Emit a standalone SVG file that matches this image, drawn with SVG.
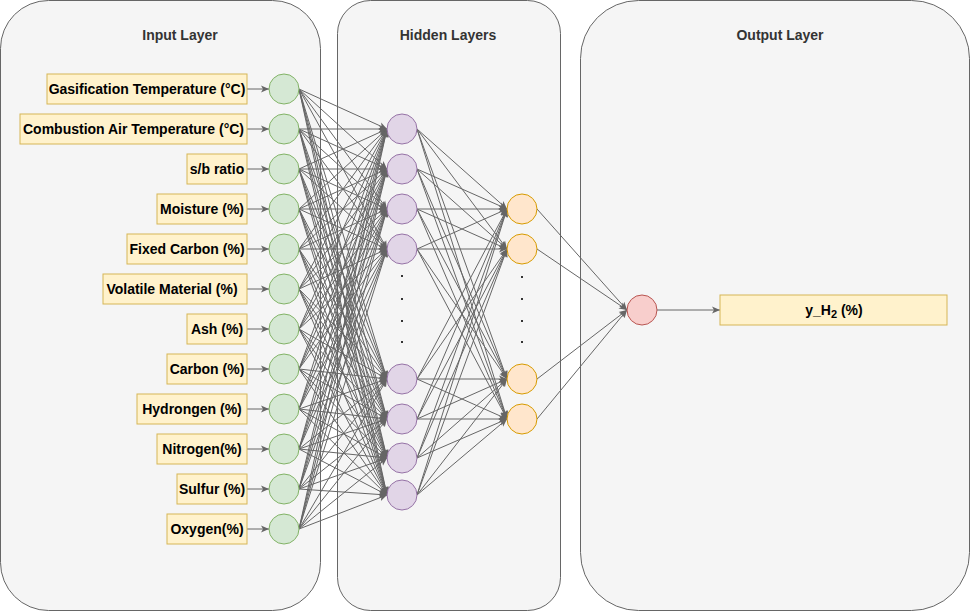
<svg xmlns="http://www.w3.org/2000/svg" width="971" height="612" viewBox="0 0 971 612">
<style>
.panel{fill:#f5f5f5;stroke:#666666;stroke-width:1}
.title{font-family:"Liberation Sans",Arial,sans-serif;font-size:14px;font-weight:bold;fill:#333333;text-anchor:middle}
.lbl{fill:#fff2cc;stroke:#d6b656;stroke-width:1}
.lt{font-family:"Liberation Sans",Arial,sans-serif;font-size:14px;font-weight:bold;fill:#000000;text-anchor:middle;dominant-baseline:central}
.in{fill:#d5e8d4;stroke:#82b366;stroke-width:1}
.hid{fill:#e1d5e7;stroke:#9673a6;stroke-width:1}
.hid2{fill:#ffe6cc;stroke:#d79b00;stroke-width:1}
.out{fill:#f8cecc;stroke:#b85450;stroke-width:1}
.dot{fill:#333333}
#edges line{stroke:#666666;stroke-width:1;marker-end:url(#arr)}
</style>
<defs>
<marker id="arr" viewBox="0 0 8 8" refX="8" refY="4" markerWidth="8" markerHeight="8" markerUnits="userSpaceOnUse" orient="auto">
<path d="M0,0.5 L8,4 L0,7.5 L2,4 Z" fill="#666666"/>
</marker>
</defs>
<g id="panels">
<rect id="input-layer" class="panel" x="0.5" y="0.5" width="320" height="610" rx="48" ry="48"/>
<rect id="hidden-layers" class="panel" x="337.5" y="0.5" width="223" height="610" rx="33" ry="33"/>
<rect id="output-layer" class="panel" x="580.5" y="0.5" width="389" height="610" rx="58" ry="58"/>
<text class="title" x="180" y="40">Input Layer</text>
<text class="title" x="448" y="40">Hidden Layers</text>
<text class="title" x="780" y="40">Output Layer</text>
</g>
<g id="edges">
<line x1="247" y1="89" x2="269" y2="89"/>
<line x1="247" y1="129" x2="269" y2="129"/>
<line x1="247" y1="169" x2="269" y2="169"/>
<line x1="247" y1="209" x2="269" y2="209"/>
<line x1="247" y1="249" x2="269" y2="249"/>
<line x1="247" y1="289" x2="269" y2="289"/>
<line x1="247" y1="329" x2="269" y2="329"/>
<line x1="247" y1="369" x2="269" y2="369"/>
<line x1="247" y1="409" x2="269" y2="409"/>
<line x1="247" y1="449" x2="269" y2="449"/>
<line x1="247" y1="489" x2="269" y2="489"/>
<line x1="247" y1="529" x2="269" y2="529"/>
<line x1="299" y1="89" x2="387" y2="129"/><line x1="299" y1="89" x2="387" y2="169"/><line x1="299" y1="89" x2="387" y2="209"/><line x1="299" y1="89" x2="387" y2="249"/><line x1="299" y1="89" x2="387" y2="379"/><line x1="299" y1="89" x2="387" y2="419"/><line x1="299" y1="89" x2="387" y2="458"/><line x1="299" y1="89" x2="387" y2="495"/>
<line x1="299" y1="129" x2="387" y2="129"/><line x1="299" y1="129" x2="387" y2="169"/><line x1="299" y1="129" x2="387" y2="209"/><line x1="299" y1="129" x2="387" y2="249"/><line x1="299" y1="129" x2="387" y2="379"/><line x1="299" y1="129" x2="387" y2="419"/><line x1="299" y1="129" x2="387" y2="458"/><line x1="299" y1="129" x2="387" y2="495"/>
<line x1="299" y1="169" x2="387" y2="129"/><line x1="299" y1="169" x2="387" y2="169"/><line x1="299" y1="169" x2="387" y2="209"/><line x1="299" y1="169" x2="387" y2="249"/><line x1="299" y1="169" x2="387" y2="379"/><line x1="299" y1="169" x2="387" y2="419"/><line x1="299" y1="169" x2="387" y2="458"/><line x1="299" y1="169" x2="387" y2="495"/>
<line x1="299" y1="209" x2="387" y2="129"/><line x1="299" y1="209" x2="387" y2="169"/><line x1="299" y1="209" x2="387" y2="209"/><line x1="299" y1="209" x2="387" y2="249"/><line x1="299" y1="209" x2="387" y2="379"/><line x1="299" y1="209" x2="387" y2="419"/><line x1="299" y1="209" x2="387" y2="458"/><line x1="299" y1="209" x2="387" y2="495"/>
<line x1="299" y1="249" x2="387" y2="129"/><line x1="299" y1="249" x2="387" y2="169"/><line x1="299" y1="249" x2="387" y2="209"/><line x1="299" y1="249" x2="387" y2="249"/><line x1="299" y1="249" x2="387" y2="379"/><line x1="299" y1="249" x2="387" y2="419"/><line x1="299" y1="249" x2="387" y2="458"/><line x1="299" y1="249" x2="387" y2="495"/>
<line x1="299" y1="289" x2="387" y2="129"/><line x1="299" y1="289" x2="387" y2="169"/><line x1="299" y1="289" x2="387" y2="209"/><line x1="299" y1="289" x2="387" y2="249"/><line x1="299" y1="289" x2="387" y2="379"/><line x1="299" y1="289" x2="387" y2="419"/><line x1="299" y1="289" x2="387" y2="458"/><line x1="299" y1="289" x2="387" y2="495"/>
<line x1="299" y1="329" x2="387" y2="129"/><line x1="299" y1="329" x2="387" y2="169"/><line x1="299" y1="329" x2="387" y2="209"/><line x1="299" y1="329" x2="387" y2="249"/><line x1="299" y1="329" x2="387" y2="379"/><line x1="299" y1="329" x2="387" y2="419"/><line x1="299" y1="329" x2="387" y2="458"/><line x1="299" y1="329" x2="387" y2="495"/>
<line x1="299" y1="369" x2="387" y2="129"/><line x1="299" y1="369" x2="387" y2="169"/><line x1="299" y1="369" x2="387" y2="209"/><line x1="299" y1="369" x2="387" y2="249"/><line x1="299" y1="369" x2="387" y2="379"/><line x1="299" y1="369" x2="387" y2="419"/><line x1="299" y1="369" x2="387" y2="458"/><line x1="299" y1="369" x2="387" y2="495"/>
<line x1="299" y1="409" x2="387" y2="129"/><line x1="299" y1="409" x2="387" y2="169"/><line x1="299" y1="409" x2="387" y2="209"/><line x1="299" y1="409" x2="387" y2="249"/><line x1="299" y1="409" x2="387" y2="379"/><line x1="299" y1="409" x2="387" y2="419"/><line x1="299" y1="409" x2="387" y2="458"/><line x1="299" y1="409" x2="387" y2="495"/>
<line x1="299" y1="449" x2="387" y2="129"/><line x1="299" y1="449" x2="387" y2="169"/><line x1="299" y1="449" x2="387" y2="209"/><line x1="299" y1="449" x2="387" y2="249"/><line x1="299" y1="449" x2="387" y2="379"/><line x1="299" y1="449" x2="387" y2="419"/><line x1="299" y1="449" x2="387" y2="458"/><line x1="299" y1="449" x2="387" y2="495"/>
<line x1="299" y1="489" x2="387" y2="129"/><line x1="299" y1="489" x2="387" y2="169"/><line x1="299" y1="489" x2="387" y2="209"/><line x1="299" y1="489" x2="387" y2="249"/><line x1="299" y1="489" x2="387" y2="379"/><line x1="299" y1="489" x2="387" y2="419"/><line x1="299" y1="489" x2="387" y2="458"/><line x1="299" y1="489" x2="387" y2="495"/>
<line x1="299" y1="529" x2="387" y2="129"/><line x1="299" y1="529" x2="387" y2="169"/><line x1="299" y1="529" x2="387" y2="209"/><line x1="299" y1="529" x2="387" y2="249"/><line x1="299" y1="529" x2="387" y2="379"/><line x1="299" y1="529" x2="387" y2="419"/><line x1="299" y1="529" x2="387" y2="458"/><line x1="299" y1="529" x2="387" y2="495"/>
<line x1="417" y1="129" x2="507" y2="209"/><line x1="417" y1="129" x2="507" y2="249"/><line x1="417" y1="129" x2="507" y2="379"/><line x1="417" y1="129" x2="507" y2="419"/>
<line x1="417" y1="169" x2="507" y2="209"/><line x1="417" y1="169" x2="507" y2="249"/><line x1="417" y1="169" x2="507" y2="379"/><line x1="417" y1="169" x2="507" y2="419"/>
<line x1="417" y1="209" x2="507" y2="209"/><line x1="417" y1="209" x2="507" y2="249"/><line x1="417" y1="209" x2="507" y2="379"/><line x1="417" y1="209" x2="507" y2="419"/>
<line x1="417" y1="249" x2="507" y2="209"/><line x1="417" y1="249" x2="507" y2="249"/><line x1="417" y1="249" x2="507" y2="379"/><line x1="417" y1="249" x2="507" y2="419"/>
<line x1="417" y1="379" x2="507" y2="209"/><line x1="417" y1="379" x2="507" y2="249"/><line x1="417" y1="379" x2="507" y2="379"/><line x1="417" y1="379" x2="507" y2="419"/>
<line x1="417" y1="419" x2="507" y2="209"/><line x1="417" y1="419" x2="507" y2="249"/><line x1="417" y1="419" x2="507" y2="379"/><line x1="417" y1="419" x2="507" y2="419"/>
<line x1="417" y1="458" x2="507" y2="209"/><line x1="417" y1="458" x2="507" y2="249"/><line x1="417" y1="458" x2="507" y2="379"/><line x1="417" y1="458" x2="507" y2="419"/>
<line x1="417" y1="495" x2="507" y2="209"/><line x1="417" y1="495" x2="507" y2="249"/><line x1="417" y1="495" x2="507" y2="379"/><line x1="417" y1="495" x2="507" y2="419"/>
<line x1="537" y1="209" x2="627" y2="310"/>
<line x1="537" y1="249" x2="627" y2="310"/>
<line x1="537" y1="379" x2="627" y2="310"/>
<line x1="537" y1="419" x2="627" y2="310"/>
<line x1="657" y1="310" x2="720" y2="310"/>
</g>
<g id="label-gasification"><rect class="lbl" x="47" y="74" width="200" height="30"/><text class="lt" x="147" y="89">Gasification Temperature (°C)</text></g>
<g id="label-combustion"><rect class="lbl" x="20" y="114" width="227" height="30"/><text class="lt" x="133.5" y="129">Combustion Air Temperature (°C)</text></g>
<g id="label-sb"><rect class="lbl" x="187" y="154" width="60" height="30"/><text class="lt" x="217" y="169">s/b ratio</text></g>
<g id="label-moisture"><rect class="lbl" x="157" y="194" width="90" height="30"/><text class="lt" x="202" y="209">Moisture (%)</text></g>
<g id="label-fixedcarbon"><rect class="lbl" x="127" y="234" width="120" height="30"/><text class="lt" x="187" y="249">Fixed Carbon (%)</text></g>
<g id="label-volatile"><rect class="lbl" x="103" y="274" width="144" height="30"/><text class="lt" x="172" y="289">Volatile Material (%)</text></g>
<g id="label-ash"><rect class="lbl" x="187" y="314" width="60" height="30"/><text class="lt" x="217" y="329">Ash (%)</text></g>
<g id="label-carbon"><rect class="lbl" x="167" y="354" width="80" height="30"/><text class="lt" x="207" y="369">Carbon (%)</text></g>
<g id="label-hydrogen"><rect class="lbl" x="137" y="394" width="110" height="30"/><text class="lt" x="192" y="409">Hydrongen (%)</text></g>
<g id="label-nitrogen"><rect class="lbl" x="157" y="434" width="90" height="30"/><text class="lt" x="202" y="449">Nitrogen(%)</text></g>
<g id="label-sulfur"><rect class="lbl" x="177" y="474" width="70" height="30"/><text class="lt" x="212" y="489">Sulfur (%)</text></g>
<g id="label-oxygen"><rect class="lbl" x="167" y="514" width="80" height="30"/><text class="lt" x="207" y="529">Oxygen(%)</text></g>
<g id="input-nodes">
<circle id="in1" class="in" cx="284" cy="89" r="15"/>
<circle id="in2" class="in" cx="284" cy="129" r="15"/>
<circle id="in3" class="in" cx="284" cy="169" r="15"/>
<circle id="in4" class="in" cx="284" cy="209" r="15"/>
<circle id="in5" class="in" cx="284" cy="249" r="15"/>
<circle id="in6" class="in" cx="284" cy="289" r="15"/>
<circle id="in7" class="in" cx="284" cy="329" r="15"/>
<circle id="in8" class="in" cx="284" cy="369" r="15"/>
<circle id="in9" class="in" cx="284" cy="409" r="15"/>
<circle id="in10" class="in" cx="284" cy="449" r="15"/>
<circle id="in11" class="in" cx="284" cy="489" r="15"/>
<circle id="in12" class="in" cx="284" cy="529" r="15"/>
</g>
<g id="hidden1-nodes">
<circle id="h1" class="hid" cx="402" cy="129" r="15"/>
<circle id="h2" class="hid" cx="402" cy="169" r="15"/>
<circle id="h3" class="hid" cx="402" cy="209" r="15"/>
<circle id="h4" class="hid" cx="402" cy="249" r="15"/>
<circle id="h5" class="hid" cx="402" cy="379" r="15"/>
<circle id="h6" class="hid" cx="402" cy="419" r="15"/>
<circle id="h7" class="hid" cx="402" cy="458" r="15"/>
<circle id="h8" class="hid" cx="402" cy="495" r="15"/>
<rect class="dot" x="401" y="275" width="2" height="2"/>
<rect class="dot" x="401" y="298" width="2" height="2"/>
<rect class="dot" x="401" y="320" width="2" height="2"/>
<rect class="dot" x="401" y="341" width="2" height="2"/>
</g>
<g id="hidden2-nodes">
<circle id="g1" class="hid2" cx="522" cy="209" r="15"/>
<circle id="g2" class="hid2" cx="522" cy="249" r="15"/>
<circle id="g3" class="hid2" cx="522" cy="379" r="15"/>
<circle id="g4" class="hid2" cx="522" cy="419" r="15"/>
<rect class="dot" x="521" y="276" width="2" height="2"/>
<rect class="dot" x="521" y="298" width="2" height="2"/>
<rect class="dot" x="521" y="320" width="2" height="2"/>
<rect class="dot" x="521" y="341" width="2" height="2"/>
</g>
<g id="output-node">
<circle id="o1" class="out" cx="642" cy="310" r="15"/>
</g>
<g id="output-label">
<rect class="lbl" x="720" y="295" width="227" height="30"/>
<text class="lt" x="834" y="310">y_H<tspan dy="4" font-size="11">2</tspan><tspan dy="-4"> (%)</tspan></text>
</g>
</svg>
